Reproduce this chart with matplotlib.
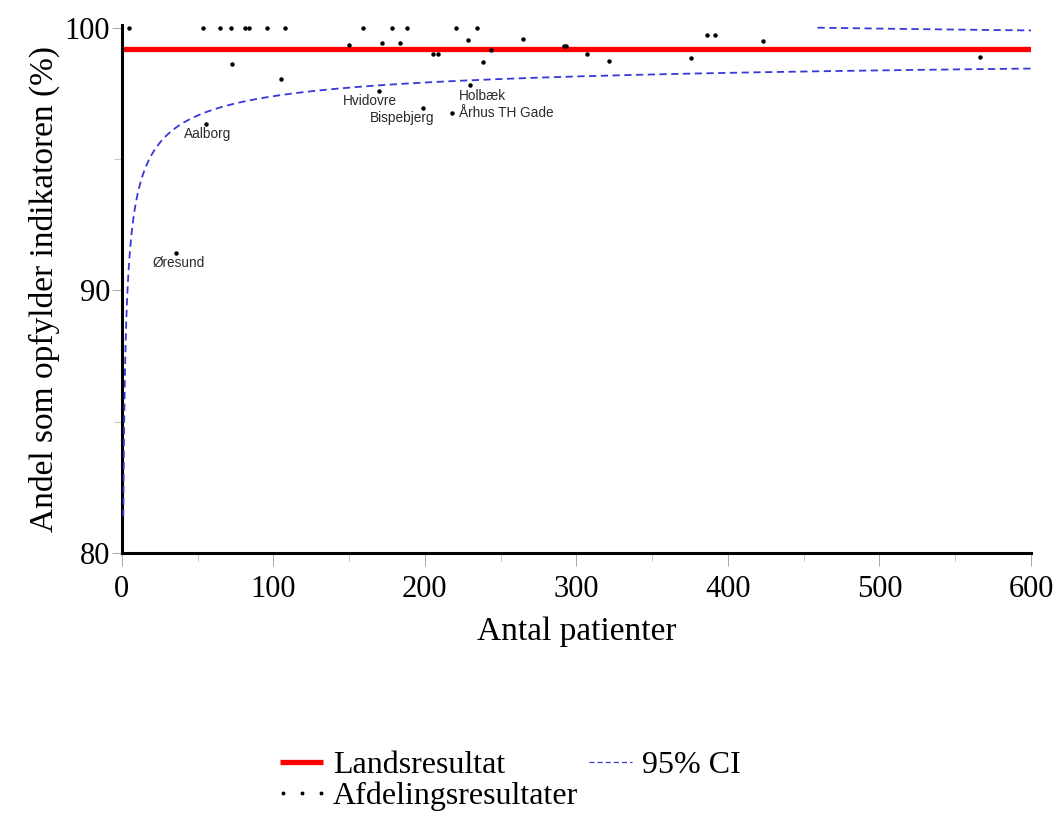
import numpy as np
import matplotlib
matplotlib.use("Agg")
import matplotlib.pyplot as plt
from matplotlib.lines import Line2D
from matplotlib.legend_handler import HandlerLine2D

# department results (number of patients, % meeting indicator)
antal = [5, 53.5, 65, 72, 81, 84, 96, 107.5, 159.5, 178.5, 188.5, 220.5, 234.5,
         72.6, 105, 149.7, 171.5, 183.5, 205.5, 208.8, 228.6, 243.6, 238.5,
         264.5, 291.5, 293, 306.7, 321.6, 375.4, 386.3, 391.6, 423.3, 566.3]
andel = [100, 100, 100, 100, 100, 100, 100, 100, 100, 100, 100, 100, 100,
         98.6, 98.05, 99.33, 99.4, 99.43, 99.0, 99.0, 99.54, 99.16, 98.68,
         99.58, 99.29, 99.29, 99.0, 98.72, 98.86, 99.71, 99.71, 99.49, 98.87]

# labelled departments
navne = ["Øresund", "Aalborg", "Hvidovre", "Bispebjerg", "Holbæk", "Århus TH Gade"]
navne_antal = [35.6, 55.4, 169.5, 198.6, 229.7, 217.8]
navne_andel = [91.44, 96.34, 97.6, 96.96, 97.8, 96.74]

landsresultat = 99.17  # national result (%)

# label offsets in points (dx, dy, ha)
offsets = {"Øresund": (1.8, -7.4, "center"), "Aalborg": (1, -7.4, "center"),
           "Hvidovre": (-6, -7.2, "center"), "Bispebjerg": (-15, -7.2, "center"),
           "Holbæk": (9.4, -7.4, "center"), "Århus TH Gade": (5.5, 0, "left")}

fig = plt.figure(figsize=(10.59, 8.18), dpi=100)
ax = fig.add_axes([0.115, 0.324, 0.8586, 0.646])

# funnel limits around the national result
n = np.linspace(1, 600, 1200)
p = landsresultat / 100
se = 1.96 * np.sqrt(p * (1 - p) / n) * 100
lower = landsresultat - se
upper = landsresultat + se
upper_vis = np.where(upper <= 100, upper, np.nan)

ci_col = "#3838d8"
ax.plot([0, 600], [landsresultat, landsresultat], color="#ff0000", lw=3.8,
        solid_capstyle="butt", zorder=2)
ax.plot(n, lower, color=ci_col, lw=1.3, ls=(0, (4, 2.5)), zorder=3)
ax.plot(n, upper_vis, color=ci_col, lw=1.3, ls=(0, (4, 2.5)), zorder=3)

ax.plot(antal, andel, ls="none", marker="o", ms=2.2, color="black", zorder=4)
ax.plot(navne_antal, navne_andel, ls="none", marker="o", ms=2.2, color="black", zorder=4)

for name, x, y in zip(navne, navne_antal, navne_andel):
    dx, dy, ha = offsets[name]
    ax.annotate(name, (x, y), xytext=(dx, dy), textcoords="offset points",
                ha=ha, va="center", fontsize=9.8, family="Liberation Sans",
                color="#2a2a2a")

ax.set_xlim(0, 600)
ax.set_ylim(80, 100.12)
ax.set_xticks([0, 100, 200, 300, 400, 500, 600])
ax.set_xticks(np.arange(50, 600, 100), minor=True)
ax.set_yticks([80, 90, 100])
ax.set_yticks([85, 95], minor=True)

for s in ["top", "right"]:
    ax.spines[s].set_visible(False)
for s in ["left", "bottom"]:
    ax.spines[s].set_linewidth(2.2)

ax.tick_params(axis="x", which="major", length=9, width=0.6, color="#999999",
               labelsize=22, pad=7)
ax.tick_params(axis="y", which="major", length=7, width=0.6, color="#999999",
               labelsize=22, pad=1.5)
ax.tick_params(which="minor", length=6, width=0.6, color="#bbbbbb")
for lab in ax.get_xticklabels() + ax.get_yticklabels():
    lab.set_family("Liberation Serif")

ax.set_xlabel("Antal patienter", family="Liberation Serif", fontsize=24, labelpad=9)
ax.set_ylabel("Andel som opfylder indikatoren (%)", family="Liberation Serif",
              fontsize=24, labelpad=3)

lands_h = Line2D([], [], color="#ff0000", lw=3.8, solid_capstyle="butt")
afd_h = Line2D([], [], ls="none", marker="o", ms=1.8, color="black")
ci_h = Line2D([], [], color=ci_col, lw=0.9, ls=(0, (4, 2.5)))
handles = [lands_h, afd_h, ci_h]
labels = ["Landsresultat", "Afdelingsresultater", "95% CI"]
fig.legend(handles, labels, loc="center", bbox_to_anchor=(0.482, 0.045), ncol=2,
           frameon=False, prop={"family": "Liberation Serif", "size": 23},
           numpoints=1,
           handler_map={afd_h: HandlerLine2D(numpoints=3, marker_pad=0.08)},
           handlelength=1.35, handletextpad=0.3, columnspacing=0.35,
           labelspacing=0.05, borderpad=0.1)

fig.savefig("out.png", dpi=100)
